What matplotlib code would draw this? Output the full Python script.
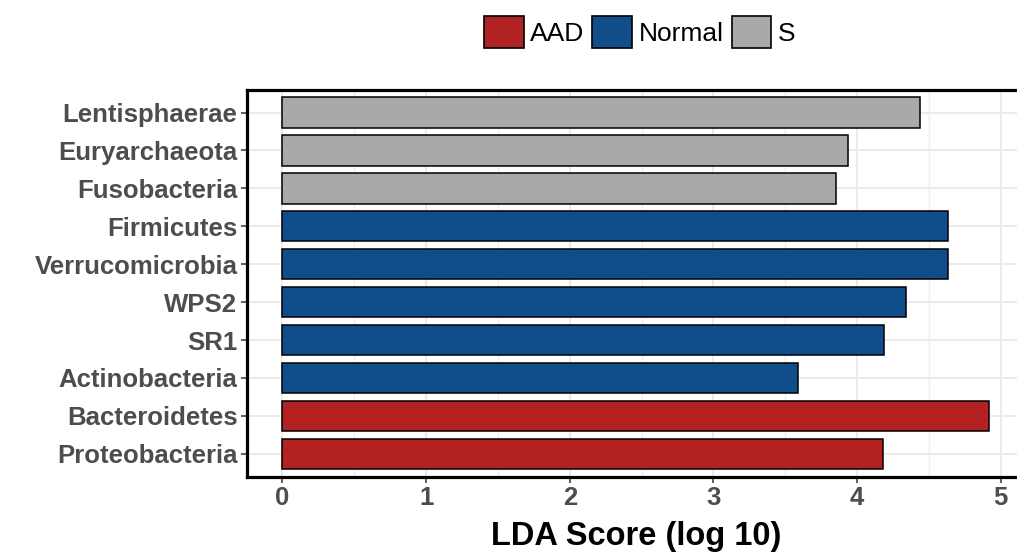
# LDA score bar chart (LEfSe style), grouped by class.

import matplotlib.pyplot as plt
from matplotlib.patches import Patch

plt.rcParams['font.family'] = ['Liberation Sans', 'DejaVu Sans']

taxa = ['Proteobacteria', 'Bacteroidetes', 'Actinobacteria', 'SR1', 'WPS2',
        'Verrucomicrobia', 'Firmicutes', 'Fusobacteria', 'Euryarchaeota',
        'Lentisphaerae']
lda = [4.18, 4.92, 3.59, 4.19, 4.34, 4.63, 4.63, 3.85, 3.94, 4.44]
group = ['AAD', 'AAD', 'Normal', 'Normal', 'Normal', 'Normal', 'Normal',
         'S', 'S', 'S']

groups = ['AAD', 'Normal', 'S']
colors = {'AAD': '#B22222', 'Normal': '#104E8B', 'S': '#A9A9A9'}

fig = plt.figure(figsize=(10.17, 5.58), dpi=100)
# right edge sits past the figure, as in the original
ax = fig.add_axes([0.243, 0.146, 0.765, 0.693])

ypos = list(range(1, len(taxa) + 1))
ax.barh(ypos, lda, height=0.8, color=[colors[g] for g in group],
        edgecolor='black', linewidth=1.1, zorder=3)

ax.set_xlim(-0.246, 5.17)
ax.set_ylim(0.4, len(taxa) + 0.6)
ax.set_yticks(ypos)
ax.set_yticklabels(taxa)
ax.set_xticks([0, 1, 2, 3, 4, 5])
ax.set_xticks([0.5, 1.5, 2.5, 3.5, 4.5], minor=True)

ax.grid(True, which='major', color='#EBEBEB', linewidth=1.4, zorder=0)
ax.grid(True, which='minor', axis='x', color='#EFEFEF', linewidth=1.0, zorder=0)
ax.set_axisbelow(True)

for s in ax.spines.values():
    s.set_linewidth(2.3)
    s.set_color('black')

ax.tick_params(axis='both', which='major', length=4, width=1.1, color='#333333',
               labelsize=18.5, labelcolor='#4D4D4D', pad=3)
ax.tick_params(axis='both', which='minor', length=0)
for lab in ax.get_xticklabels() + ax.get_yticklabels():
    lab.set_fontweight('bold')

ax.set_xlabel('LDA Score (log 10)', fontsize=23.5, fontweight='bold', labelpad=8)

handles = [Patch(facecolor=colors[g], edgecolor='black', linewidth=1.2) for g in groups]
fig.legend(handles, groups, loc='upper center', bbox_to_anchor=(0.629, 1.0),
           ncol=3, frameon=False, fontsize=19, handlelength=1.5,
           handleheight=1.5, handletextpad=0.25, columnspacing=0.3,
           borderaxespad=0.2)

plt.savefig('out.png', dpi=100)
